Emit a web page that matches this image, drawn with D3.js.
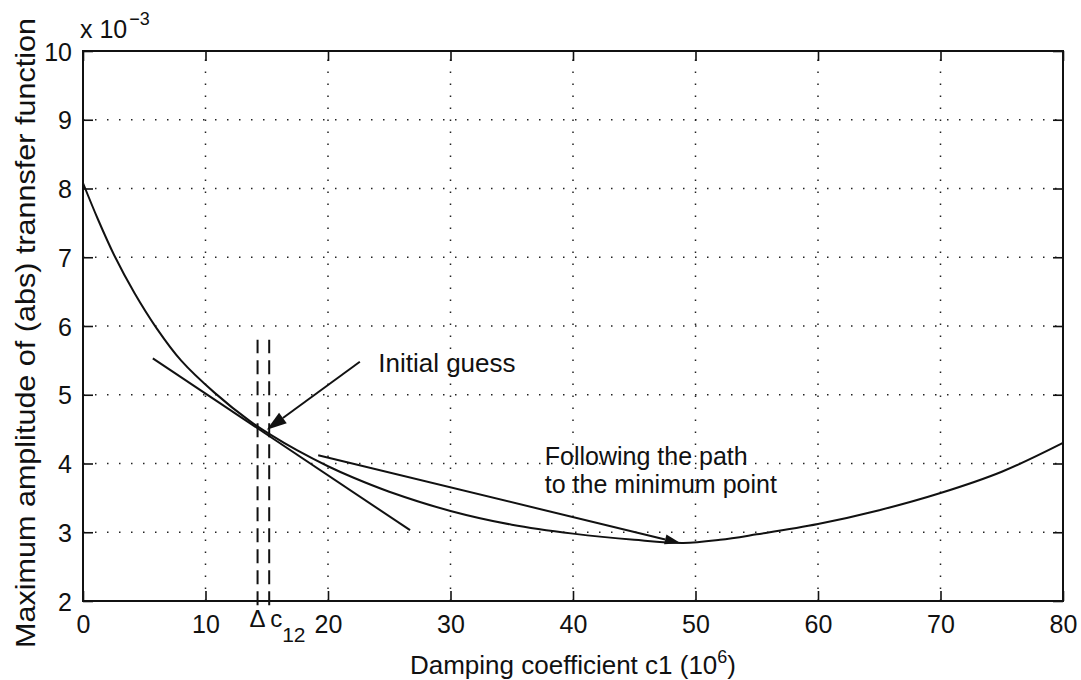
<!DOCTYPE html>
<html>
<head>
<meta charset="utf-8">
<script src="https://cdn.jsdelivr.net/npm/d3@7"></script>
<style>
  html, body { margin: 0; padding: 0; background: #fff; }
  svg { display: block; }
  text { font-family: "Liberation Sans", Arial, Helvetica, sans-serif; fill: #111; }
</style>
</head>
<body>
<svg id="chart" width="1081" height="680"></svg>
<script>
// Damping coefficient c1 (10^6) and maximum |H| (x 10^-3)
const c1Values  = [0, 1.2, 2.6, 4.2, 6.0, 8.0, 10.8, 13.6, 15.3, 17.5, 20, 22, 25, 30, 35, 40, 45, 49, 52, 55, 60, 65, 70, 75, 80];
const amplitude = [8.08, 7.56, 7.01, 6.48, 5.97, 5.50, 5.02, 4.62, 4.42, 4.19, 3.96, 3.80, 3.59, 3.31, 3.11, 2.98, 2.89, 2.845, 2.89, 2.97, 3.12, 3.32, 3.57, 3.88, 4.3];

// tangent at the initial guess
const tangentC = [5.7, 26.7];
const tangentA = [5.53, 3.03];

// arrow following the path to the minimum
const pathArrowC = [19.2, 48.8];
const pathArrowA = [4.12, 2.84];

// arrow pointing at the initial guess
const guessArrowC = [22.6, 15.0];
const guessArrowA = [5.48, 4.49];

// dashed markers: c12 - delta and c12
const markerC = [14.25, 15.2];
const markerA = [1.94, 5.8];

const xTicks = [0, 10, 20, 30, 40, 50, 60, 70, 80];
const yTicks = [2, 3, 4, 5, 6, 7, 8, 9, 10];

const svg = d3.select("#chart");
const plotLeft = 83, plotRight = 1063, plotTop = 51, plotBottom = 601;

const x = d3.scaleLinear().domain([0, 80]).range([plotLeft, plotRight]);
const y = d3.scaleLinear().domain([2, 10]).range([plotBottom, plotTop]);

// dotted grid
const grid = svg.append("g")
  .attr("stroke", "#222").attr("stroke-width", 1.5)
  .attr("stroke-dasharray", "1.5,10.5");
grid.selectAll("line.vx").data(xTicks.slice(1, -1)).join("line")
  .attr("x1", d => x(d)).attr("x2", d => x(d))
  .attr("y1", plotBottom).attr("y2", plotTop);
grid.selectAll("line.hy").data(yTicks.slice(1, -1)).join("line")
  .attr("x1", plotLeft).attr("x2", plotRight)
  .attr("y1", d => y(d)).attr("y2", d => y(d));

// axes with inward ticks
const tickFont = 25;
const gx = svg.append("g").attr("transform", `translate(0,${plotBottom})`)
  .call(d3.axisBottom(x).tickValues(xTicks).tickSize(-10).tickPadding(14));
const gxTop = svg.append("g").attr("transform", `translate(0,${plotTop})`)
  .call(d3.axisTop(x).tickValues(xTicks).tickSize(-10).tickFormat(""));
const gy = svg.append("g").attr("transform", `translate(${plotLeft},0)`)
  .call(d3.axisLeft(y).tickValues(yTicks).tickSize(-10).tickPadding(11));
const gyRight = svg.append("g").attr("transform", `translate(${plotRight},0)`)
  .call(d3.axisRight(y).tickValues(yTicks).tickSize(-10).tickFormat(""));

[gx, gxTop, gy, gyRight].forEach(g => {
  g.select(".domain").remove();
  g.selectAll(".tick line").attr("stroke", "#111").attr("stroke-width", 1.6);
  g.selectAll("text").attr("font-size", tickFont)
    .attr("font-family", "Liberation Sans, Arial, sans-serif").attr("fill", "#111");
});
gx.selectAll("text").attr("dy", "0.71em");
gy.selectAll("text").attr("dy", "0.36em");

// frame
svg.append("rect")
  .attr("x", plotLeft).attr("y", plotTop)
  .attr("width", plotRight - plotLeft).attr("height", plotBottom - plotTop)
  .attr("fill", "none").attr("stroke", "#111").attr("stroke-width", 2);

// dashed markers
svg.append("g").selectAll("line").data(markerC).join("line")
  .attr("x1", d => x(d)).attr("x2", d => x(d))
  .attr("y1", y(markerA[0])).attr("y2", y(markerA[1]))
  .attr("stroke", "#111").attr("stroke-width", 2)
  .attr("stroke-dasharray", "14,7");

// main curve
const pts = c1Values.map((c, i) => [c, amplitude[i]]);
svg.append("path")
  .datum(pts)
  .attr("fill", "none").attr("stroke", "#111").attr("stroke-width", 2)
  .attr("d", d3.line().x(d => x(d[0])).y(d => y(d[1])).curve(d3.curveCatmullRom.alpha(0.5)));

// tangent line
svg.append("line")
  .attr("x1", x(tangentC[0])).attr("y1", y(tangentA[0]))
  .attr("x2", x(tangentC[1])).attr("y2", y(tangentA[1]))
  .attr("stroke", "#111").attr("stroke-width", 2);

// arrows with filled heads
function arrow(cs, as, headLen, headHalf) {
  const x0 = x(cs[0]), y0 = y(as[0]), x1 = x(cs[1]), y1 = y(as[1]);
  const ang = Math.atan2(y1 - y0, x1 - x0);
  const bx = x1 - headLen * Math.cos(ang), by = y1 - headLen * Math.sin(ang);
  svg.append("line")
    .attr("x1", x0).attr("y1", y0).attr("x2", bx).attr("y2", by)
    .attr("stroke", "#111").attr("stroke-width", 2);
  const nx = -Math.sin(ang), ny = Math.cos(ang);
  svg.append("polygon")
    .attr("points", [[x1, y1], [bx + nx * headHalf, by + ny * headHalf], [bx - nx * headHalf, by - ny * headHalf]].map(p => p.join(",")).join(" "))
    .attr("fill", "#111");
}
arrow(guessArrowC, guessArrowA, 20, 6.5);
arrow(pathArrowC, pathArrowA, 16, 5);

// annotations
svg.append("text").attr("x", x(24.1)).attr("y", y(5.33))
  .attr("font-size", 26).text("Initial guess");
svg.append("text").attr("x", x(37.7)).attr("y", 465)
  .attr("font-size", 25).text("Following the path");
svg.append("text").attr("x", x(37.7)).attr("y", 493)
  .attr("font-size", 25).text("to the minimum point");

// marker labels under the axis
svg.append("text").attr("x", x(markerC[0])).attr("y", 627)
  .attr("text-anchor", "middle").attr("font-size", 24).text("Δ");
const cl = svg.append("text").attr("x", x(markerC[1]) + 1).attr("y", 627).attr("font-size", 24);
cl.append("tspan").text("c");
cl.append("tspan").attr("dy", 15).attr("font-size", 21).text("12");

// exponent above the y axis
const ex = svg.append("text").attr("x", 80).attr("y", 38).attr("font-size", 25);
ex.append("tspan").text("x 10");
ex.append("tspan").attr("dy", -13).attr("dx", 2).attr("font-size", 18).text("−3");

// axis titles
const xt = svg.append("text").attr("x", (plotLeft + plotRight) / 2).attr("y", 674)
  .attr("text-anchor", "middle").attr("font-size", 26);
xt.append("tspan").text("Damping coefficient c1 (10");
xt.append("tspan").attr("dy", -11).attr("font-size", 18).text("6");
xt.append("tspan").attr("dy", 11).text(")");

svg.append("text")
  .attr("transform", `translate(35,333) rotate(-90)`)
  .attr("text-anchor", "middle").attr("font-size", 28)
  .attr("textLength", 630).attr("lengthAdjust", "spacingAndGlyphs")
  .text("Maximum amplitude of (abs) trannsfer function");
</script>
</body>
</html>
